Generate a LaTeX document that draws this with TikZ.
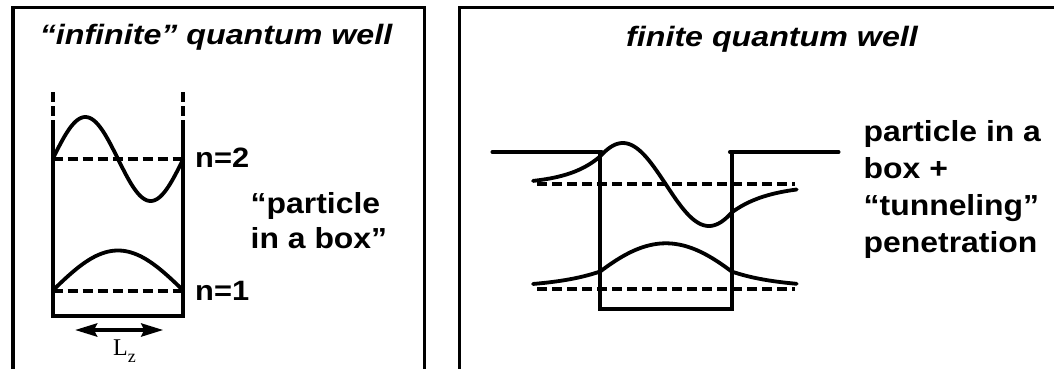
\documentclass[tikz,border=0pt]{standalone}
\usepackage{fontspec}
\usepackage{graphicx}
\setmainfont{Liberation Sans}
\newfontfamily\serifL{Liberation Serif}
\usetikzlibrary{arrows.meta}
\newcommand{\hstr}[2][1.1]{\scalebox{#1}[1]{#2}}
\tikzset{
  frame/.style={line width=3.2pt, line join=miter},
  wall/.style={line width=4pt, line join=miter},
  wallext/.style={line width=4pt, dash pattern=on 10pt off 4pt},
  barrier/.style={line width=4.5pt, line cap=round},
  lvl/.style={line width=4pt, dash pattern=on 10pt off 5pt},
  wave/.style={line width=3.8pt, line join=round, line cap=round},
  ttl/.style={inner sep=0pt, anchor=base, font=\fontsize{28}{34}\selectfont\bfseries\itshape},
  lbl/.style={inner sep=0pt, anchor=base west, font=\fontsize{29}{35}\selectfont\bfseries},
  nlbl/.style={inner sep=0pt, anchor=base west, font=\fontsize{28}{34}\selectfont\bfseries},
  dblarrow/.style={line width=4pt, {Stealth[length=22pt,width=13pt,inset=3pt]}-{Stealth[length=22pt,width=13pt,inset=3pt]}},
}
\begin{document}
\begin{tikzpicture}[x=1pt,y=-1pt]
\useasboundingbox (0,0) rectangle (1063,368);
\clip (0,0) rectangle (1063,368);
% frames
\draw[frame] (13,400) -- (13,7.7) -- (424.3,7.7) -- (424.3,400);
\draw[frame] (459.3,400) -- (459.3,7.7) -- (1054,7.7);
% titles
\node[ttl] (tl) at (216,44) {\hstr[1.15]{“infinite” quantum well}};
\node[ttl] (tr) at (772,46.5) {\hstr[1.15]{finite quantum well}};
% ---------- infinite well ----------
\draw[wallext] (52.7,92) -- (52.7,125);
\draw[wallext] (183.3,92) -- (183.3,125);
\draw[wall] (52.7,124) -- (52.7,315.5) -- (183.3,315.5) -- (183.3,124);
\draw[lvl] (52.7,159) -- (183.3,159);
\draw[lvl] (52.7,290.5) -- (183.3,290.5);
\draw[wave] plot[domain=52.7:183.3, samples=80] (\x, {159 - 42*sin(2.7565*(\x-52.7))});
\draw[wave] plot[domain=52.7:183.3, samples=60] (\x, {290.5 - 40*sin(1.3783*(\x-52.7))});
\node[nlbl] (n2) at (195,167.3) {\hstr{n=2}};
\node[nlbl] (n1) at (195,300) {\hstr{n=1}};
\node[lbl] (pib) at (250.5,213.3) {\hstr{\vtop{\baselineskip=35pt\hbox{“particle}\hbox{in a box”}}}};
\coordinate (la) at (75,330);
\coordinate (lb) at (163.3,330);
\draw[dblarrow] (la) -- (lb);
\node[inner sep=0pt, anchor=base west] (lz) at (113,355.5) {\serifL\fontsize{24}{24}\selectfont L\raisebox{-7pt}{\fontsize{18}{18}\selectfont z}};
% ---------- finite well ----------
\draw[barrier] (492.7,152) -- (601.5,152);
\draw[barrier] (730.2,152) -- (838.3,152);
\draw[wall] (600,152) -- (600,309) -- (731.7,309) -- (731.7,152);
\draw[lvl] (537,184.3) -- (795,184.3);
\draw[lvl] (537,288.5) -- (795,288.5);
\draw[wave] plot[domain=533:600, samples=30] (\x, {184.5 - 28*exp((\x-600)/32.7)})
  -- plot[domain=600:731.7, samples=70] (\x, {184.5 + 41.5*sin(2.09*(\x-665.9))})
  -- plot[domain=731.7:796.7, samples=30] (\x, {184.5 + 28*exp(-(\x-731.7)/37.7)});
\draw[wave] plot[domain=533:600, samples=30] (\x, {288 - 16.5*exp((\x-600)/47.6)})
  -- plot[domain=600:731.7, samples=70] (\x, {288 - 44.7*cos(1.04*(\x-665.9))})
  -- plot[domain=731.7:796.7, samples=30] (\x, {288 - 16.5*exp(-(\x-731.7)/47.6)});
\node[lbl] (pbt) at (863.5,141.7) {\hstr{\vtop{\baselineskip=37pt\hbox{particle in a}\hbox{box +}\hbox{“tunneling”}\hbox{penetration}}}};
\end{tikzpicture}
\end{document}
